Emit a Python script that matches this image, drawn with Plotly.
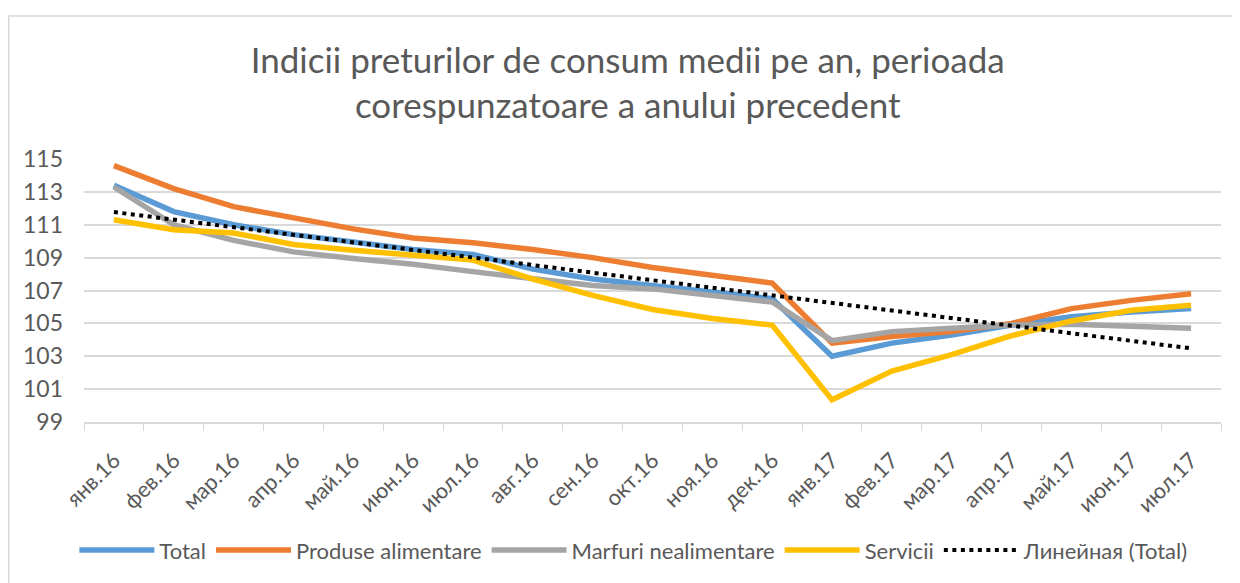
import numpy as np
import plotly.graph_objects as go

categories = ["янв.16", "фев.16", "мар.16", "апр.16", "май.16", "июн.16", "июл.16",
              "авг.16", "сен.16", "окт.16", "ноя.16", "дек.16", "янв.17", "фев.17",
              "мар.17", "апр.17", "май.17", "июн.17", "июл.17"]

total = [113.4, 111.8, 111.0, 110.4, 109.95, 109.5, 109.2, 108.3, 107.7, 107.3,
         106.85, 106.5, 103.0, 103.8, 104.3, 104.9, 105.4, 105.7, 105.9]
produse = [114.6, 113.2, 112.1, 111.45, 110.75, 110.2, 109.9, 109.5, 109.0, 108.4,
           107.9, 107.45, 103.8, 104.2, 104.5, 105.0, 105.9, 106.4, 106.8]
marfuri = [113.3, 111.0, 110.05, 109.35, 108.95, 108.6, 108.15, 107.7, 107.3, 107.1,
           106.7, 106.3, 103.95, 104.5, 104.7, 104.9, 104.95, 104.8, 104.7]
servicii = [111.3, 110.7, 110.5, 109.8, 109.45, 109.15, 108.85, 107.7, 106.7, 105.85,
            105.3, 104.9, 100.35, 102.1, 103.1, 104.25, 105.15, 105.8, 106.1]

y_ticks = [99, 101, 103, 105, 107, 109, 111, 113, 115]

# linear trendline of Total (as in the original "Линейная (Total)")
idx = np.arange(len(total))
slope, intercept = np.polyfit(idx, total, 1)
trend = list(intercept + slope * idx)

FONT = "Lato, Open Sans, sans-serif"
TXT = "#595959"

W, H = 1232, 575
L, R, T, B = 76, 19, 151, 159
PW, PH = W - L - R, H - T - B

fig = go.Figure()
series = [
    ("Total", total, "#5B9BD5"),
    ("Produse alimentare", produse, "#ED7D31"),
    ("Marfuri nealimentare", marfuri, "#A5A5A5"),
    ("Servicii", servicii, "#FFC000"),
]
for name, vals, col in series:
    fig.add_trace(go.Scatter(x=categories, y=vals, name=name, mode="lines",
                             line=dict(color=col, width=5.5)))
fig.add_trace(go.Scatter(x=categories, y=trend, name="Линейная (Total)", mode="lines",
                         line=dict(color="black", width=4, dash="4px,4.5px")))

fig.update_layout(
    width=W, height=H,
    margin=dict(l=L, r=R, t=T, b=B),
    paper_bgcolor="white", plot_bgcolor="white",
    font=dict(family=FONT, color=TXT, size=22),
    title=dict(text="Indicii preturilor de consum medii pe an, perioada<br>corespunzatoare a anului precedent",
               x=0.503, xref="container", xanchor="center",
               y=0.887, yref="container", yanchor="middle",
               font=dict(family=FONT, size=35, color=TXT)),
    showlegend=True,
    legend=dict(orientation="h", x=0.508, xanchor="center", xref="container",
                y=0.057, yanchor="middle", yref="container",
                font=dict(family=FONT, size=22, color=TXT),
                itemwidth=75, traceorder="normal", bgcolor="rgba(0,0,0,0)"),
    shapes=[dict(type="rect", xref="paper", yref="paper",
                 x0=(0.75 - L) / PW, x1=1.2, y0=-1.0, y1=(H - B - 7) / PH,
                 line=dict(color="#D9D9D9", width=1.5), fillcolor="rgba(0,0,0,0)",
                 layer="below")],
)
fig.update_xaxes(type="category", tickangle=-45, showgrid=False,
                 range=[-0.5, len(categories) - 0.5],
                 showline=True, linecolor="#D9D9D9", linewidth=1.5,
                 ticks="outside", tickson="boundaries", ticklen=7, tickcolor="#D9D9D9",
                 tickfont=dict(family=FONT, size=22, color=TXT), ticklabelstandoff=15)
fig.update_yaxes(range=[99, 115], tickvals=y_ticks, showgrid=True, gridcolor="#D9D9D9",
                 gridwidth=1.5, zeroline=False, showline=False,
                 tickfont=dict(family=FONT, size=23, color=TXT), ticklabelstandoff=20)

fig.write_html("out.html")
